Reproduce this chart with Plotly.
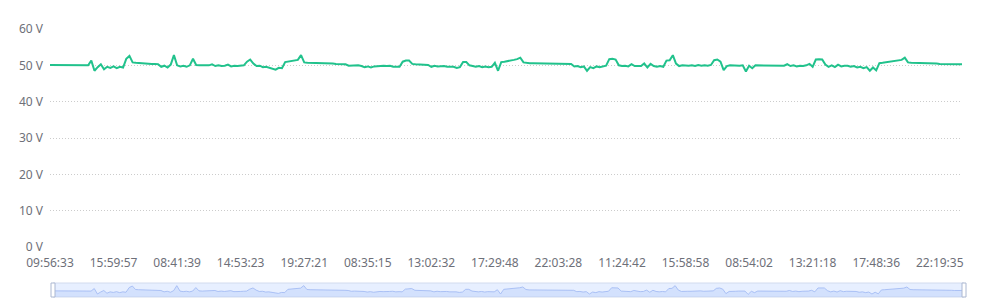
import plotly.graph_objects as go

# ---- data ----
tick_labels = ["09:56:33", "15:59:57", "08:41:39", "14:53:23", "19:27:21",
               "08:35:15", "13:02:32", "17:29:48", "22:03:28", "11:24:42",
               "15:58:58", "08:54:02", "13:21:18", "17:48:36", "22:19:35"]
label_interval = 20

voltage = [
    50.1, 50.1, 50.1, 50.1, 50.0, 50.0, 50.0, 50.0, 50.0, 50.0,
    50.0, 50.0, 50.0, 51.3, 48.5, 49.5, 50.3, 48.9, 49.6, 49.3,
    49.7, 49.2, 49.6, 49.4, 51.8, 52.6, 50.8, 50.7, 50.6, 50.6,
    50.5, 50.5, 50.4, 50.4, 50.3, 49.6, 49.9, 49.4, 50.2, 52.8,
    50.0, 49.7, 49.9, 49.6, 50.0, 51.8, 50.1, 50.0, 50.0, 50.0,
    50.0, 50.3, 49.8, 50.0, 49.8, 49.9, 50.2, 49.7, 49.9, 49.8,
    49.9, 50.0, 51.0, 51.6, 50.5, 49.8, 49.9, 49.5, 49.6, 49.3,
    49.2, 48.8, 49.3, 49.2, 50.9, 51.1, 51.2, 51.3, 51.5, 52.8,
    50.8, 50.7, 50.7, 50.7, 50.6, 50.6, 50.6, 50.5, 50.5, 50.5,
    50.4, 50.4, 50.4, 50.3, 49.9, 50.0, 50.0, 50.0, 49.8, 49.5,
    49.7, 49.4, 49.7, 49.8, 49.7, 49.9, 49.8, 49.9, 49.6, 49.7,
    49.6, 51.0, 51.3, 51.3, 50.4, 50.3, 50.2, 50.2, 50.1, 50.1,
    49.6, 49.9, 49.7, 49.8, 49.8, 49.6, 49.7, 49.6, 49.3, 49.5,
    50.9, 50.9, 50.0, 49.8, 49.6, 49.8, 49.5, 49.7, 49.5, 49.6,
    50.7, 48.5, 50.9, 51.0, 51.1, 51.3, 51.5, 51.7, 52.1, 50.8,
    50.6, 50.6, 50.6, 50.6, 50.5, 50.5, 50.5, 50.5, 50.5, 50.5,
    50.4, 50.4, 50.4, 50.4, 50.4, 49.7, 49.8, 49.5, 49.7, 48.5,
    49.5, 49.2, 49.7, 49.5, 49.8, 49.9, 51.7, 51.8, 51.6, 50.0,
    49.8, 49.9, 49.7, 50.3, 49.8, 49.7, 49.8, 50.5, 49.4, 50.4,
    49.8, 49.6, 49.8, 49.6, 51.3, 51.4, 52.8, 50.5, 49.8, 50.0,
    49.9, 49.9, 50.0, 49.8, 50.1, 49.9, 50.0, 49.9, 50.1, 51.4,
    51.6, 51.0, 48.7, 49.8, 50.0, 49.9, 50.0, 49.9, 50.0, 48.3,
    49.9, 49.2, 50.0, 50.0, 50.0, 49.9, 50.0, 50.0, 50.0, 49.9,
    50.0, 49.9, 50.3, 49.8, 50.0, 49.7, 49.9, 49.8, 50.0, 50.4,
    49.6, 51.6, 51.7, 51.6, 50.2, 49.6, 50.0, 49.5, 50.2, 49.7,
    49.9, 49.9, 49.6, 49.8, 49.4, 49.6, 49.2, 49.5, 48.5, 49.4,
    48.6, 50.6, 50.7, 50.8, 50.9, 51.0, 51.1, 51.3, 51.5, 52.1,
    50.8, 50.7, 50.7, 50.6, 50.6, 50.6, 50.5, 50.5, 50.5, 50.5,
    50.4, 50.4, 50.4, 50.4, 50.3, 50.3, 50.3, 50.3,
]

y_ticks = [0, 10, 20, 30, 40, 50, 60]
y_unit = "V"

# ---- figure ----
W, H = 992, 298
idx = list(range(len(voltage)))
tickvals = [i * label_interval for i in range(len(tick_labels))]
y_ticktext = [f"{v} {y_unit}" for v in y_ticks]


def px_x(p):
    return p / W


def px_y(p):
    return (H - p) / H


FONT = "Noto Sans, Liberation Sans, sans-serif"
LABEL_COLOR = "#6e7079"

fig = go.Figure()
fig.add_trace(go.Scatter(
    x=idx, y=voltage, mode="lines",
    line=dict(color="#21c28c", width=2),
    hoverinfo="skip", showlegend=False,
    xaxis="x", yaxis="y",
))

# data shadow in the zoom slider
vmin, vmax = min(voltage), max(voltage)
pad = (vmax - vmin) * 0.3
fig.add_trace(go.Scatter(
    x=idx, y=voltage, mode="lines",
    line=dict(color="#9db6f2", width=0.8),
    fill="tozeroy", fillcolor="rgba(143,176,247,0.22)",
    hoverinfo="skip", showlegend=False,
    xaxis="x2", yaxis="y2",
))

plot_left, plot_right, plot_top, plot_bottom = 50, 962, 29, 247
sl_left, sl_right, sl_top, sl_bottom = 53, 964, 283, 297

fig.update_layout(
    width=W, height=H,
    margin=dict(l=0, r=0, t=0, b=0, autoexpand=False),
    paper_bgcolor="white", plot_bgcolor="white",
    font=dict(family=FONT, size=12, color=LABEL_COLOR),
    xaxis=dict(
        domain=[px_x(plot_left), px_x(plot_right)],
        range=[0, len(voltage) - 1],
        tickmode="array", tickvals=tickvals, ticktext=tick_labels,
        showgrid=False, zeroline=False, showline=False, ticks="",
        ticklabelstandoff=7,
        tickfont=dict(size=12, color=LABEL_COLOR),
        automargin=False,
        anchor="y",
    ),
    yaxis=dict(
        domain=[px_y(plot_bottom), px_y(plot_top)],
        range=[0, 60],
        tickmode="array", tickvals=y_ticks, ticktext=y_ticktext,
        showgrid=True, gridcolor="#cccccc", griddash="1px,2px", gridwidth=1,
        zeroline=False, showline=False, ticks="",
        ticklabelstandoff=6,
        tickfont=dict(size=12, color=LABEL_COLOR),
        automargin=False,
        anchor="x",
    ),
    xaxis2=dict(
        domain=[px_x(sl_left), px_x(sl_right)],
        range=[0, len(voltage) - 1],
        showgrid=False, zeroline=False, showline=False,
        showticklabels=False, ticks="", anchor="y2", automargin=False,
    ),
    yaxis2=dict(
        domain=[px_y(sl_bottom), px_y(sl_top)],
        range=[vmin - pad, vmax + pad],
        showgrid=False, zeroline=False, showline=False,
        showticklabels=False, ticks="", anchor="x2", automargin=False,
    ),
    shapes=[
        dict(type="rect", xref="paper", yref="paper", layer="below",
             x0=px_x(sl_left), x1=px_x(sl_right),
             y0=px_y(sl_bottom), y1=px_y(sl_top),
             fillcolor="rgba(135,175,255,0.2)",
             line=dict(color="#d2dbee", width=1)),
        dict(type="rect", xref="paper", yref="paper", layer="above",
             x0=px_x(sl_left - 2), x1=px_x(sl_left + 2),
             y0=px_y(sl_bottom), y1=px_y(sl_top),
             fillcolor="white", line=dict(color="#acb8d1", width=1)),
        dict(type="rect", xref="paper", yref="paper", layer="above",
             x0=px_x(sl_right - 2), x1=px_x(sl_right + 2),
             y0=px_y(sl_bottom), y1=px_y(sl_top),
             fillcolor="white", line=dict(color="#acb8d1", width=1)),
    ],
)

fig.write_html("out.html")
